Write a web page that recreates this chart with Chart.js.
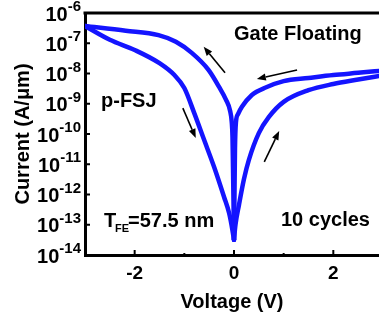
<!DOCTYPE html>
<html>
<head>
<meta charset="utf-8">
<script src="https://cdn.jsdelivr.net/npm/chart.js@4/dist/chart.umd.min.js"></script>
<style>
  html, body { margin: 0; padding: 0; background: #fff; }
  #wrap { width: 379px; height: 324px; }
</style>
</head>
<body>
<div id="wrap"><canvas id="iv"></canvas></div>
<script>
// sweep 0 -> +3 V (lower right branch)
const fwdRightV = [0, 0.03, 0.1, 0.2, 0.3, 0.5, 0.7, 1.0, 1.5, 2.0, 2.5, 3.0];
const fwdRightI = [3.2e-14, 1e-13, 4.5e-13, 3.2e-12, 1.4e-11, 1.07e-10, 3.6e-10, 1.15e-9, 2.8e-9, 4.5e-9, 6.3e-9, 8.7e-9];
// sweep +3 -> 0 V (upper right branch)
const backRightV = [3.0, 2.5, 2.0, 1.5, 1.0, 0.65, 0.36, 0.16, 0.08, 0.04, 0.02, 0.01, 0];
const backRightI = [1.25e-8, 1.05e-8, 8.9e-9, 7.1e-9, 5.6e-9, 3.5e-9, 1.95e-9, 7.9e-10, 4.5e-10, 2.5e-10, 3.2e-11, 1e-12, 3.2e-14];
// sweep 0 -> -3 V (upper left branch)
const backLeftV = [0, -0.01, -0.02, -0.03, -0.045, -0.08, -0.16, -0.3, -0.51, -0.85, -1.17, -1.52, -2.18, -3.0];
const backLeftI = [3.2e-14, 6.3e-13, 8e-12, 8e-11, 2.5e-10, 6e-10, 1.35e-9, 3.6e-9, 1.3e-8, 4.8e-8, 1.12e-7, 1.86e-7, 2.6e-7, 3.7e-7];
// sweep -3 -> 0 V (lower left branch)
const fwdLeftV = [-3.0, -2.5, -2.0, -1.5, -1.2, -1.0, -0.8, -0.6, -0.4, -0.2, -0.1, -0.05, 0];
const fwdLeftI = [3.7e-7, 1.3e-7, 6.0e-8, 2.2e-8, 8.9e-9, 3.3e-9, 4.9e-10, 6.3e-11, 8.1e-12, 8.3e-13, 2.5e-13, 1e-13, 3.2e-14];

const xTicks = [-2, -1, 0, 1, 2];
const yExponents = [-14, -13, -12, -11, -10, -9, -8, -7, -6];

// sweep direction arrows [x0, y0, x1, y1] in data units (tail -> head)
const arrows = [
  [-0.18, 1.05e-8, -0.61, 7.6e-8],
  [1.27, 1.3e-8, 0.46, 6.6e-9],
  [-1.03, 7.2e-10, -0.77, 7.4e-11],
  [0.61, 1.2e-11, 0.91, 1.26e-10]
];

const FONT = '"Liberation Sans", Arial, sans-serif';
const BLUE = '#1414ff';

function pts(v, i) {
  return v.map((x, k) => ({ x: x, y: i[k] }));
}

function branch(v, i) {
  return {
    data: pts(v, i),
    borderColor: BLUE,
    borderWidth: 4.5,
    pointRadius: 0,
    cubicInterpolationMode: 'monotone',
    borderCapStyle: 'round',
    borderJoinStyle: 'round'
  };
}

const decorations = {
  id: 'decorations',
  afterDraw(chart) {
    const { ctx, chartArea: a, scales: { x, y } } = chart;
    ctx.save();
    ctx.strokeStyle = '#000';
    ctx.fillStyle = '#000';

    // top frame line
    ctx.lineWidth = 3;
    ctx.beginPath();
    ctx.moveTo(a.left - 1.5, a.top);
    ctx.lineTo(a.right + 2, a.top);
    ctx.stroke();

    // inward ticks
    ctx.lineWidth = 2;
    yExponents.forEach(e => {
      const py = y.getPixelForValue(Math.pow(10, e));
      ctx.beginPath();
      ctx.moveTo(a.left, py);
      ctx.lineTo(a.left + 5, py);
      ctx.stroke();
    });
    xTicks.forEach(t => {
      const px = x.getPixelForValue(t);
      const len = t % 2 === 0 ? 5 : 2;
      ctx.beginPath();
      ctx.moveTo(px, a.bottom);
      ctx.lineTo(px, a.bottom - len);
      ctx.stroke();
    });

    // y tick labels 10^n
    ctx.textBaseline = 'middle';
    ctx.textAlign = 'right';
    yExponents.forEach(e => {
      const py = y.getPixelForValue(Math.pow(10, e));
      ctx.font = 'bold 15px ' + FONT;
      const ex = String(e);
      const w = ctx.measureText(ex).width;
      ctx.fillText(ex, a.left - 4, py - 6);
      ctx.font = 'bold 20px ' + FONT;
      ctx.fillText('10', a.left - 4 - w, py + 2);
    });

    // arrows
    ctx.lineWidth = 1.6;
    arrows.forEach(([x0, y0, x1, y1]) => {
      const ax = x.getPixelForValue(x0), ay = y.getPixelForValue(y0);
      const bx = x.getPixelForValue(x1), by = y.getPixelForValue(y1);
      const ang = Math.atan2(by - ay, bx - ax);
      const hl = 9, hw = 3.5;
      const cx = bx - hl * Math.cos(ang), cy = by - hl * Math.sin(ang);
      ctx.beginPath();
      ctx.moveTo(ax, ay);
      ctx.lineTo(cx, cy);
      ctx.stroke();
      ctx.beginPath();
      ctx.moveTo(bx, by);
      ctx.lineTo(cx + hw * Math.sin(ang), cy - hw * Math.cos(ang));
      ctx.lineTo(cx - hw * Math.sin(ang), cy + hw * Math.cos(ang));
      ctx.closePath();
      ctx.fill();
    });

    // annotations
    ctx.textAlign = 'left';
    ctx.textBaseline = 'alphabetic';
    ctx.font = 'bold 20px ' + FONT;
    ctx.fillText('Gate Floating', 234, 40);
    ctx.fillText('p-FSJ', 101, 107);
    ctx.fillText('10 cycles', 281, 226);
    ctx.fillText('T', 104, 227);
    ctx.fillText('=57.5 nm', 128, 227);
    ctx.font = 'bold 11px ' + FONT;
    ctx.fillText('FE', 115, 232);

    ctx.restore();
  }
};

new Chart(document.getElementById('iv'), {
  type: 'line',
  data: {
    datasets: [
      branch(fwdRightV, fwdRightI),
      branch(backRightV, backRightI),
      branch(backLeftV, backLeftI),
      branch(fwdLeftV, fwdLeftI)
    ]
  },
  options: {
    responsive: true,
    maintainAspectRatio: false,
    animation: false,
    layout: { padding: { top: 13, right: 0, bottom: 0, left: 0 } },
    plugins: { legend: { display: false }, tooltip: { enabled: false } },
    scales: {
      x: {
        type: 'linear',
        min: -3,
        max: 2.92,
        afterBuildTicks: s => { s.ticks = xTicks.map(v => ({ value: v })); },
        afterFit: s => { s.height = 69; },
        ticks: {
          color: '#000',
          padding: 7,
          maxRotation: 0,
          font: { family: FONT, size: 19, weight: 'bold' },
          callback: v => (v % 2 === 0 ? String(v) : '')
        },
        grid: { display: true, drawOnChartArea: false, drawTicks: false },
        border: { display: true, color: '#000', width: 3 },
        title: {
          display: true,
          text: 'Voltage (V)',
          color: '#000',
          font: { family: FONT, size: 20, weight: 'bold' },
          padding: { top: 0, bottom: 10 }
        }
      },
      y: {
        type: 'logarithmic',
        min: 1e-14,
        max: 1e-6,
        afterBuildTicks: s => { s.ticks = yExponents.map(e => ({ value: Math.pow(10, e) })); },
        afterFit: s => { s.width = 85; },
        ticks: { display: false },
        grid: { display: true, drawOnChartArea: false, drawTicks: false },
        border: { display: true, color: '#000', width: 3 },
        title: {
          display: true,
          text: 'Current (A/\u03bcm)',
          color: '#000',
          font: { family: FONT, size: 20, weight: 'bold' },
          padding: { top: 11, bottom: 0 }
        }
      }
    }
  },
  plugins: [decorations]
});
</script>
</body>
</html>
